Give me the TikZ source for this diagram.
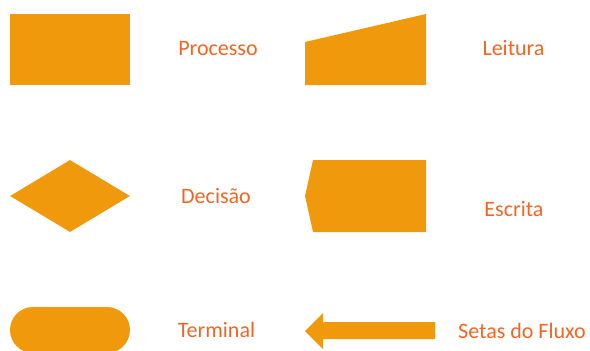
\documentclass[tikz,border=0pt]{standalone}
\usepackage{fontspec}
\setmainfont{Carlito}
\usetikzlibrary{shapes.geometric}
\definecolor{simbolo}{RGB}{240,153,13}
\definecolor{rotulo}{RGB}{242,101,34}

\begin{document}
\begin{tikzpicture}[x = 1pt, y = -1pt,
    forma/.style = {fill = simbolo, draw = none, inner sep = 0pt},
    processo/.style = {forma, shape = rectangle, minimum width = 120pt, minimum height = 71pt},
    decisao/.style = {forma, shape = diamond, minimum width = 120pt, minimum height = 72pt},
    terminal/.style = {forma, shape = rectangle, rounded corners = 23pt, minimum width = 120pt, minimum height = 46pt},
    rotulo/.style = {text = rotulo, font = \fontsize{22}{26}\selectfont, inner sep = 0pt, anchor = base},
    ]
    \clip (0,0) rectangle (590,351);

    \node[processo] (P) at (70, 49.5) {};
    \node[decisao] (D) at (70, 196) {};
    \node[terminal] (T) at (70, 330) {};

    % leitura, escrita e seta
    \fill[simbolo] (305,85) -- (305,42) -- (426,14) -- (426,85) -- cycle;
    \fill[simbolo] (313,160) -- (426,160) -- (426,232) -- (313,232) -- (305,196) -- cycle;
    \fill[simbolo] (435,322) -- (323,322) -- (323,313) -- (305,331) -- (323,349) -- (323,339) -- (435,339) -- cycle;

    \node[rotulo] (lP) at (218, 55) {Processo};
    \node[rotulo] (lL) at (513.5, 55) {Leitura};
    \node[rotulo] (lD) at (216, 203) {Decisão};
    \node[rotulo] (lE) at (514, 216) {Escrita};
    \node[rotulo] (lT) at (216.5, 337) {Terminal};
    \node[rotulo] (lS) at (522, 338) {Setas do Fluxo};
\end{tikzpicture}
\end{document}
